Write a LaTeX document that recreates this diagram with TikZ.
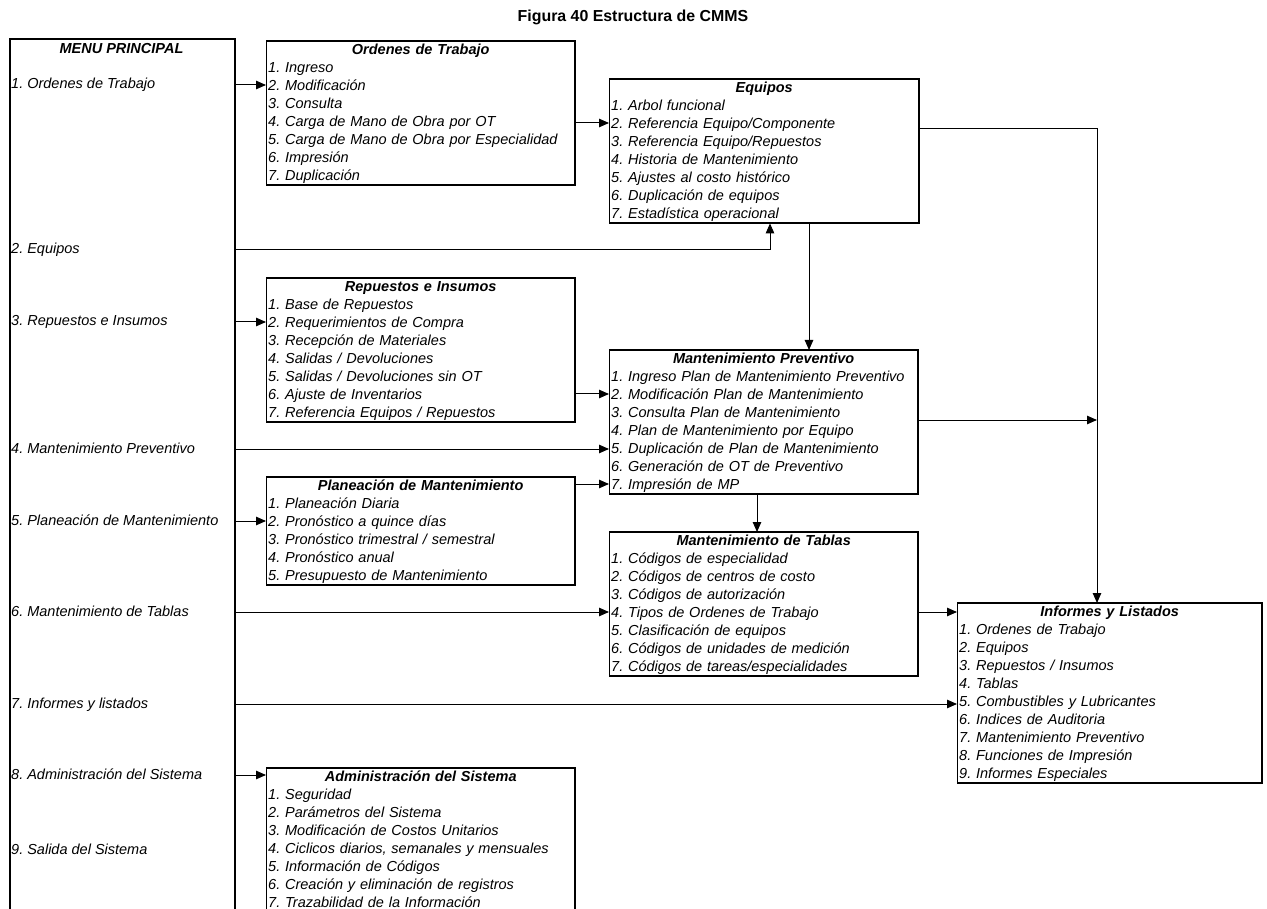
\documentclass[tikz,border=0pt]{standalone}
\usepackage{fontspec}
\setmainfont{Liberation Sans}
\usetikzlibrary{arrows.meta,calc}
\frenchspacing
\newcommand{\itm}[1]{\rule[-5pt]{0pt}{18pt}#1}
\newcommand{\ttl}[1]{\makebox[\linewidth][c]{\bfseries\itm{#1}}}
\tikzset{
  boxnode/.style={anchor=north west, inner xsep=2pt, inner ysep=0pt, text width=#1, align=left,
    font=\fontsize{14.5}{18}\selectfont\itshape\frenchspacing},
  mitem/.style={anchor=west, inner sep=0pt, font=\fontsize{14.5}{18}\selectfont\itshape\frenchspacing},
  thickedge/.style={line width=2pt, line join=miter},
  thinedge/.style={line width=0.9pt},
  conn/.style={line width=1pt, -{Triangle[length=10pt,width=8.5pt]}},
  plain/.style={line width=1pt}
}
\begin{document}
\begin{tikzpicture}[x=1pt,y=-1pt]
\useasboundingbox (0,0) rectangle (1267,909);
% title
\node[inner sep=0pt, font=\fontsize{15.9}{18}\selectfont\bfseries] (fig) at (633,17) {Figura 40 Estructura de CMMS};
% menu box
\node[draw, line width=2pt, anchor=north west, minimum width=225pt, minimum height=900pt, inner sep=0pt] (menu) at (9,38) {};
\node[anchor=north, inner sep=0pt, font=\fontsize{14.5}{18}\selectfont\bfseries\itshape] (mtitle) at (121.5,40) {\itm{MENU PRINCIPAL}};
\node[mitem] (m1) at (11,85) {\itm{1. Ordenes de Trabajo}};
\node[mitem] (m2) at (11,250) {\itm{2. Equipos}};
\node[mitem] (m3) at (11,322) {\itm{3. Repuestos e Insumos}};
\node[mitem] (m4) at (11,449) {\itm{4. Mantenimiento Preventivo}};
\node[mitem] (m5) at (11,521) {\itm{5. Planeación de Mantenimiento}};
\node[mitem] (m6) at (11,612) {\itm{6. Mantenimiento de Tablas}};
\node[mitem] (m7) at (11,704) {\itm{7. Informes y listados}};
\node[mitem] (m8) at (11,775) {\itm{8. Administración del Sistema}};
\node[mitem] (m9) at (11,850) {\itm{9. Salida del Sistema}};
% boxes
\node[boxnode=305pt] (ot) at (266,41) {\ttl{Ordenes de Trabajo}\\
\itm{1. Ingreso}\\ \itm{2. Modificación}\\ \itm{3. Consulta}\\ \itm{4. Carga de Mano de Obra por OT}\\
\itm{5. Carga de Mano de Obra por Especialidad}\\ \itm{6. Impresión}\\ \itm{7. Duplicación}};
\node[boxnode=306pt] (eq) at (609,79) {\ttl{Equipos}\\
\itm{1. Arbol funcional}\\ \itm{2. Referencia Equipo/Componente}\\ \itm{3. Referencia Equipo/Repuestos}\\
\itm{4. Historia de Mantenimiento}\\ \itm{5. Ajustes al costo histórico}\\ \itm{6. Duplicación de equipos}\\
\itm{7. Estadística operacional}};
\node[boxnode=305pt] (rep) at (266,278) {\ttl{Repuestos e Insumos}\\
\itm{1. Base de Repuestos}\\ \itm{2. Requerimientos de Compra}\\ \itm{3. Recepción de Materiales}\\
\itm{4. Salidas / Devoluciones}\\ \itm{5. Salidas / Devoluciones sin OT}\\ \itm{6. Ajuste de Inventarios}\\
\itm{7. Referencia Equipos / Repuestos}};
\node[boxnode=305pt] (mp) at (609,350) {\ttl{Mantenimiento Preventivo}\\
\itm{1. Ingreso Plan de Mantenimiento Preventivo}\\ \itm{2. Modificación Plan de Mantenimiento}\\
\itm{3. Consulta Plan de Mantenimiento}\\ \itm{4. Plan de Mantenimiento por Equipo}\\
\itm{5. Duplicación de Plan de Mantenimiento}\\ \itm{6. Generación de OT de Preventivo}\\
\itm{7. Impresión de MP}};
\node[boxnode=305pt] (pl) at (266,477) {\ttl{Planeación de Mantenimiento}\\
\itm{1. Planeación Diaria}\\ \itm{2. Pronóstico a quince días}\\ \itm{3. Pronóstico trimestral / semestral}\\
\itm{4. Pronóstico anual}\\ \itm{5. Presupuesto de Mantenimiento}};
\node[boxnode=305pt] (tab) at (609,532) {\ttl{Mantenimiento de Tablas}\\
\itm{1. Códigos de especialidad}\\ \itm{2. Códigos de centros de costo}\\ \itm{3. Códigos de autorización}\\
\itm{4. Tipos de Ordenes de Trabajo}\\ \itm{5. Clasificación de equipos}\\ \itm{6. Códigos de unidades de medición}\\
\itm{7. Códigos de tareas/especialidades}};
\node[boxnode=301pt] (inf) at (957,603) {\ttl{Informes y Listados}\\
\itm{1. Ordenes de Trabajo}\\ \itm{2. Equipos}\\ \itm{3. Repuestos / Insumos}\\ \itm{4. Tablas}\\
\itm{5. Combustibles y Lubricantes}\\ \itm{6. Indices de Auditoria}\\ \itm{7. Mantenimiento Preventivo}\\
\itm{8. Funciones de Impresión}\\ \itm{9. Informes Especiales}};
\node[boxnode=305pt] (adm) at (266,768) {\ttl{Administración del Sistema}\\
\itm{1. Seguridad}\\ \itm{2. Parámetros del Sistema}\\ \itm{3. Modificación de Costos Unitarios}\\
\itm{4. Ciclicos diarios, semanales y mensuales}\\ \itm{5. Información de Códigos}\\
\itm{6. Creación y eliminación de registros}\\ \itm{7. Trazabilidad de la Información}};
\foreach \b in {ot,eq,rep,mp,pl,tab,inf,adm}{
  \draw[thickedge] (\b.north west) -- (\b.north east) -- (\b.south east) -- (\b.south west);
  \draw[thinedge] (\b.south west) -- (\b.north west);
}
% helper coordinates
\coordinate (eq2) at ($(eq.north west)+(0,44)$);
\coordinate (eqr) at ($(eq.north east)+(0,50)$);
\coordinate (eqin) at ($(eq.south west)+(161,0)$);
\coordinate (eqout) at ($(eq.south west)+(200,0)$);
\coordinate (mp2) at ($(mp.north west)+(0,44)$);
\coordinate (mp7) at ($(mp.north west)+(0,134)$);
\coordinate (mpr) at ($(mp.north east)+(0,70)$);
\coordinate (mpb) at ($(mp.south west)+(148,0)$);
\coordinate (infin) at ($(inf.north west)+(140,0)$);
% connectors
\draw[conn] (menu.east |- m1) -- (ot.west |- m1);
\draw[conn] (ot.east |- eq2) -- (eq2);
\draw[conn] (eqr) -| (infin);
\draw[conn] (menu.east |- m2) -| (eqin);
\draw[conn] (eqout) -- (eqout |- mp.north);
\draw[conn] (menu.east |- m3) -- (rep.west |- m3);
\draw[conn] (rep.east |- mp2) -- (mp2);
\draw[conn] (menu.east |- m4) -- (mp.west |- m4);
\draw[conn] (pl.east |- mp7) -- (mp7);
\draw[conn] (menu.east |- m5) -- (pl.west |- m5);
\draw[conn] (mpr) -- (mpr -| infin);
\draw[conn] (mpb) -- (mpb |- tab.north);
\draw[conn] (menu.east |- m6) -- (tab.west |- m6);
\draw[conn] (tab.east |- m6) -- (inf.west |- m6);
\draw[conn] (menu.east |- m7) -- (inf.west |- m7);
\draw[conn] (menu.east |- m8) -- (adm.west |- m8);
\end{tikzpicture}
\end{document}
